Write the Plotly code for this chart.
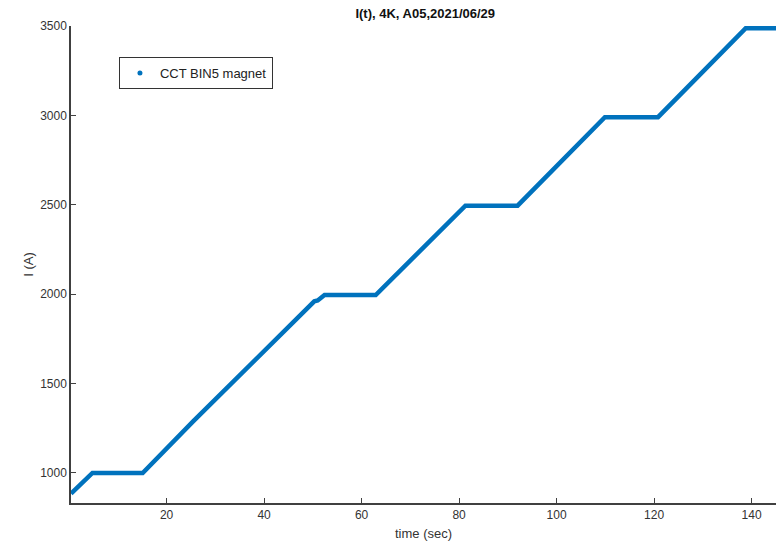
import plotly.graph_objects as go

# Breakpoints of the current ramp (time in s, current in A)
time_s = [0.4, 4.8, 15.1, 24.5, 25.5, 50.3, 51.0, 52.4, 62.9, 81.3, 92.0, 109.9, 120.8, 138.8, 145.5]
current_a = [885, 1000, 1000, 1258, 1290, 1960, 1965, 1995, 1995, 2495, 2495, 2990, 2990, 3488, 3488]

x_ticks = [20, 40, 60, 80, 100, 120, 140]
y_ticks = [1000, 1500, 2000, 2500, 3000, 3500]

blue = "#0072BD"
fig = go.Figure()
fig.add_trace(go.Scatter(x=time_s, y=current_a, mode="lines",
                         line=dict(color=blue, width=4.5),
                         showlegend=False, hoverinfo="x+y"))
fig.add_trace(go.Scatter(x=[None], y=[None], mode="markers",
                         marker=dict(color=blue, size=5),
                         name="CCT BIN5 magnet"))

font_fam = "Liberation Sans, Arial"
axis_common = dict(showgrid=False, zeroline=False, showline=True,
                   linecolor="#404040", linewidth=1.5, ticks="inside",
                   ticklen=5, tickwidth=1.2, tickcolor="#404040",
                   tickfont=dict(family=font_fam, size=12, color="#333333"),
                   mirror=False)

fig.update_layout(
    width=776, height=547,
    margin=dict(l=71, r=0, t=26, b=44),
    paper_bgcolor="white", plot_bgcolor="white",
    title=dict(text="<b>I(t), 4K, A05,2021/06/29</b>", x=0.548, xanchor="center",
               y=0.975, yanchor="middle",
               font=dict(family=font_fam, size=13, color="#111111")),
    xaxis=dict(range=[0.4, 145.0], tickvals=x_ticks,
               title=dict(text="time (sec)", standoff=8,
                          font=dict(family=font_fam, size=13, color="#333333")),
               **axis_common),
    yaxis=dict(range=[832, 3500], tickvals=y_ticks,
               title=dict(text="I (A)", standoff=4,
                          font=dict(family=font_fam, size=13, color="#333333")),
               **axis_common),
    legend=dict(x=0.068, y=0.935, xanchor="left", yanchor="top",
                bgcolor="white", bordercolor="#333333", borderwidth=1,
                font=dict(family=font_fam, size=13, color="#222222"),
                itemwidth=30),
)

fig.write_html("out.html")
